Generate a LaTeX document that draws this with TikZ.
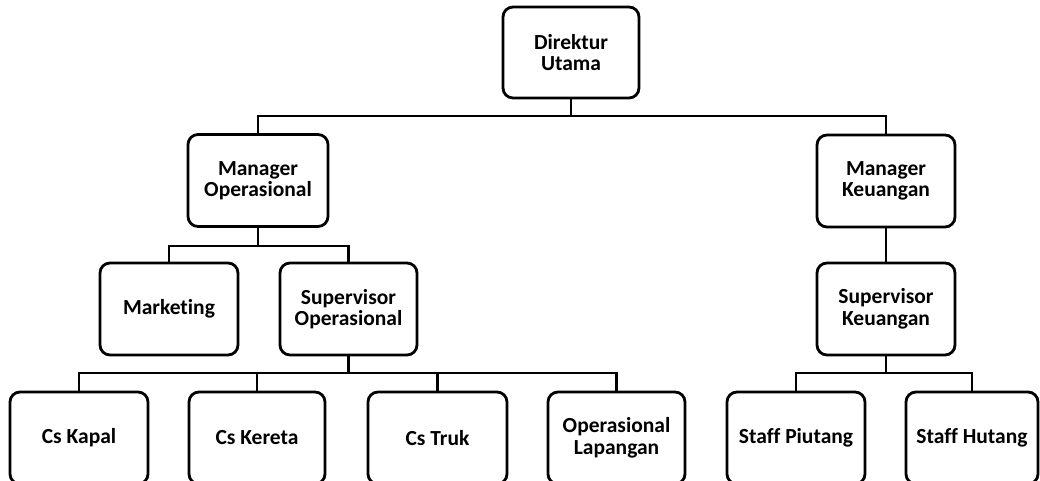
\documentclass[tikz,border=0pt]{standalone}
\usepackage{fontspec}
\setmainfont{Carlito}[Ligatures=NoCommon]
\begin{document}
\begin{tikzpicture}[x=1pt,y=-1pt,
  box/.style={draw=black, line width=2.8pt, rounded corners=10pt,
    minimum width=#1, minimum height=92pt, align=center, inner sep=0pt,
    font=\fontsize{21.5}{21.5}\selectfont\bfseries},
  box/.default=138pt,
  conn/.style={draw=black, line width=2.8pt}]
\clip (0,0) rectangle (1040,481);
% bus levels
\coordinate (y1) at (0,116);
\coordinate (y2) at (0,246);
\coordinate (y3) at (0,373);
% nodes
\node[box=136pt, minimum height=91pt] (dir) at (571,52.5) {Direktur\\Utama};
\node[box=140pt] (mop) at (258,180.5) {Manager\\Operasional};
\node[box] (mkeu) at (886,181) {Manager\\Keuangan};
\node[box] (mkt) at (169,309) {Marketing};
\node[box=137pt] (sop) at (348.5,309) {Supervisor\\Operasional};
\node[box] (skeu) at (886,309) {Supervisor\\Keuangan};
\node[box] (cskapal) at (79,438) {Cs Kapal};
\node[box=136pt] (cskereta) at (257,438) {Cs Kereta};
\node[box=139pt] (cstruk) at (437.5,438) {Cs Truk};
\node[box=137pt] (oplap) at (616.5,438) {Operasional\\Lapangan};
\node[box] (spiutang) at (796,438) {Staff Piutang};
\node[box=132pt] (shutang) at (972,438) {Staff Hutang};
% connectors
\draw[conn] (dir.south) -- (dir.south |- y1);
\draw[conn] (mop.north) |- (mkeu.north |- y1) -- (mkeu.north);
\draw[conn] (mop.south) -- (mop.south |- y2);
\draw[conn] (mkt.north) |- (sop.north |- y2) -- (sop.north);
\draw[conn] (mkeu.south) -- (skeu.north);
\draw[conn] (sop.south) -- (sop.south |- y3);
\draw[conn] (cskapal.north) |- (oplap.north |- y3) -- (oplap.north);
\draw[conn] (cskereta.north) -- (cskereta.north |- y3);
\draw[conn] (cstruk.north) -- (cstruk.north |- y3);
\draw[conn] (skeu.south) -- (skeu.south |- y3);
\draw[conn] (spiutang.north) |- (shutang.north |- y3) -- (shutang.north);
\end{tikzpicture}
\end{document}
